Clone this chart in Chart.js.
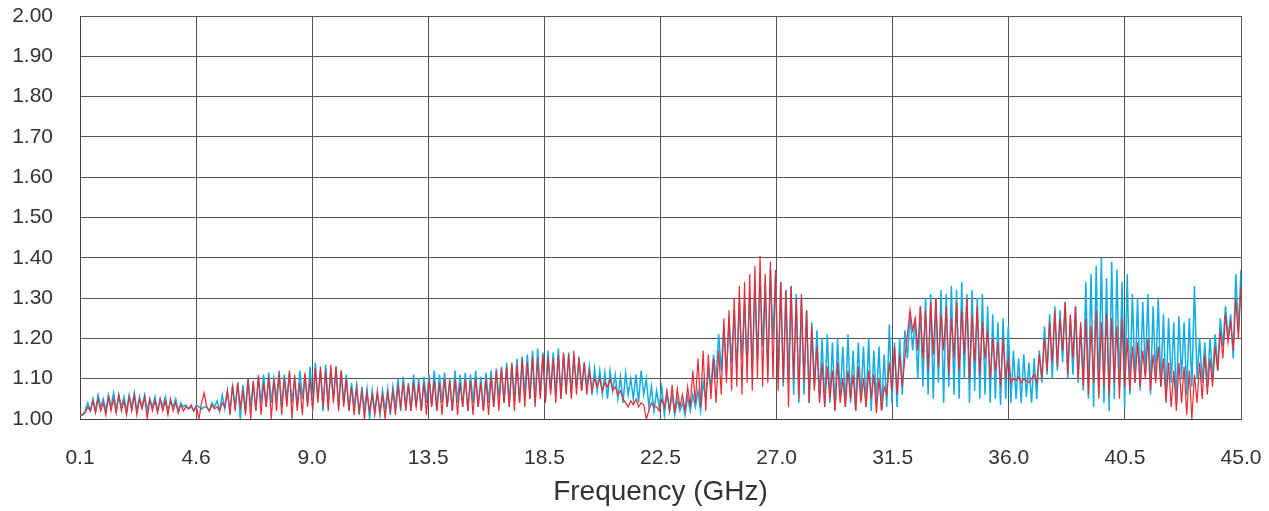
<!DOCTYPE html>
<html><head><meta charset="utf-8">
<script src="https://cdn.jsdelivr.net/npm/chart.js@4.4.1/dist/chart.umd.min.js"></script>
<style>html,body{margin:0;padding:0;background:#fff}#wrap{width:1269px;height:511px}</style>
</head><body><div id="wrap"><canvas id="c" width="1269" height="511"></canvas></div>
<script>
const freqStart = 0.1, freqStep = 0.1;
const xTickValues = [0.1, 4.59, 9.08, 13.57, 18.06, 22.55, 27.04, 31.53, 36.02, 40.51, 45.0];
const xTickLabels = ['0.1','4.6','9.0','13.5','18.5','22.5','27.0','31.5','36.0','40.5','45.0'];

const blueSeries = [
1.01,1.01,1.02,1.04,1.02,1.05,1.02,1.06,1.03,1.05,
1.02,1.06,1.03,1.065,1.02,1.06,1.03,1.055,1.02,1.06,
1.03,1.065,1.02,1.055,1.03,1.06,1.02,1.05,1.03,1.055,
1.02,1.05,1.03,1.055,1.02,1.045,1.03,1.05,1.02,1.04,
1.03,1.035,1.025,1.03,1.02,1.035,1.03,1.025,1.03,1.03,
1.02,1.04,1.03,1.045,1.02,1.06,1.025,1.07,1.02,1.08,
1.03,1.09,1.00,1.085,1.02,1.10,1.03,1.09,1.02,1.105,
1.04,1.11,1.03,1.115,1.04,1.10,1.05,1.12,1.03,1.11,
1.05,1.115,1.04,1.10,1.03,1.12,1.05,1.11,1.04,1.13,
1.03,1.14,1.05,1.12,1.02,1.135,1.04,1.12,1.05,1.13,
1.03,1.12,1.04,1.11,1.02,1.09,1.03,1.085,1.01,1.08,
1.02,1.075,1.00,1.07,1.02,1.065,1.01,1.07,1.02,1.075,
1.01,1.08,1.03,1.10,1.02,1.105,1.03,1.09,1.02,1.11,
1.03,1.10,1.02,1.105,1.04,1.11,1.03,1.12,1.02,1.11,
1.04,1.115,1.03,1.10,1.02,1.12,1.04,1.11,1.03,1.115,
1.02,1.11,1.04,1.12,1.03,1.105,1.02,1.115,1.04,1.12,
1.03,1.125,1.05,1.13,1.04,1.14,1.03,1.135,1.05,1.15,
1.04,1.155,1.06,1.16,1.05,1.17,1.04,1.175,1.06,1.165,
1.05,1.17,1.07,1.165,1.06,1.175,1.05,1.16,1.07,1.165,
1.06,1.15,1.08,1.155,1.07,1.14,1.08,1.13,1.06,1.125,
1.07,1.12,1.06,1.115,1.05,1.12,1.07,1.11,1.05,1.105,
1.04,1.115,1.06,1.10,1.05,1.11,1.04,1.12,1.06,1.10,
1.03,1.08,1.02,1.07,1.03,1.08,1.01,1.065,1.02,1.06,
1.01,1.05,1.02,1.04,1.01,1.055,1.02,1.06,1.03,1.07,
1.02,1.09,1.05,1.12,1.08,1.16,1.10,1.21,1.12,1.23,
1.11,1.25,1.14,1.27,1.12,1.29,1.15,1.28,1.13,1.31,
1.12,1.33,1.15,1.35,1.18,1.34,1.11,1.37,1.20,1.36,
1.10,1.34,1.08,1.32,1.10,1.33,1.06,1.31,1.04,1.30,
1.06,1.27,1.04,1.24,1.08,1.22,1.05,1.20,1.03,1.21,
1.04,1.19,1.02,1.20,1.05,1.18,1.03,1.21,1.04,1.17,
1.02,1.19,1.05,1.18,1.03,1.20,1.02,1.17,1.04,1.18,
1.02,1.16,1.03,1.235,1.04,1.19,1.03,1.20,1.06,1.22,
1.15,1.26,1.17,1.25,1.10,1.28,1.08,1.30,1.06,1.31,
1.05,1.30,1.09,1.32,1.04,1.31,1.08,1.33,1.06,1.32,
1.05,1.34,1.10,1.31,1.04,1.32,1.07,1.30,1.05,1.31,
1.06,1.28,1.04,1.26,1.05,1.24,1.035,1.25,1.05,1.23,
1.04,1.17,1.05,1.15,1.04,1.16,1.055,1.14,1.04,1.15,
1.05,1.17,1.09,1.23,1.11,1.26,1.10,1.28,1.12,1.27,
1.14,1.29,1.10,1.25,1.11,1.28,1.09,1.23,1.07,1.34,
1.05,1.36,1.03,1.38,1.06,1.40,1.04,1.35,1.02,1.39,
1.05,1.37,1.08,1.34,1.03,1.36,1.06,1.31,1.09,1.30,
1.07,1.29,1.11,1.31,1.06,1.28,1.10,1.30,1.08,1.26,
1.05,1.25,1.09,1.24,1.04,1.255,1.10,1.24,1.06,1.25,
1.08,1.33,1.10,1.20,1.09,1.19,1.08,1.20,1.10,1.21,
1.12,1.25,1.18,1.28,1.20,1.26,1.15,1.36,1.22,1.37
];

const redSeries = [
1.01,1.01,1.015,1.03,1.02,1.045,1.015,1.05,1.02,1.04,
1.01,1.055,1.02,1.05,1.015,1.06,1.02,1.045,1.01,1.055,
1.02,1.06,1.01,1.05,1.025,1.055,1.00,1.05,1.02,1.045,
1.015,1.05,1.02,1.045,1.01,1.05,1.02,1.04,1.015,1.035,
1.02,1.03,1.025,1.035,1.02,1.03,1.00,1.04,1.065,1.03,
1.02,1.035,1.025,1.03,1.02,1.04,1.03,1.07,1.01,1.085,
1.02,1.09,1.03,1.07,1.01,1.10,1.00,1.095,1.02,1.11,
1.01,1.09,1.03,1.105,1.00,1.10,1.02,1.115,1.01,1.10,
1.03,1.12,1.00,1.11,1.02,1.09,1.01,1.115,1.03,1.10,
1.02,1.125,1.04,1.13,1.03,1.12,1.02,1.135,1.04,1.13,
1.02,1.12,1.03,1.10,1.02,1.08,1.01,1.075,1.02,1.07,
1.00,1.065,1.02,1.06,1.01,1.07,1.015,1.06,1.00,1.065,
1.02,1.07,1.01,1.08,1.03,1.09,1.02,1.085,1.02,1.09,
1.03,1.085,1.02,1.09,1.01,1.10,1.03,1.095,1.02,1.09,
1.01,1.10,1.03,1.095,1.02,1.10,1.01,1.09,1.03,1.10,
1.02,1.095,1.01,1.10,1.03,1.09,1.02,1.10,1.01,1.105,
1.03,1.12,1.02,1.125,1.04,1.13,1.03,1.14,1.02,1.135,
1.04,1.15,1.03,1.14,1.05,1.155,1.03,1.15,1.05,1.16,
1.04,1.155,1.06,1.15,1.04,1.16,1.05,1.165,1.06,1.16,
1.05,1.17,1.06,1.15,1.07,1.14,1.06,1.12,1.07,1.10,
1.08,1.10,1.07,1.09,1.08,1.10,1.07,1.08,1.06,1.07,
1.05,1.04,1.03,1.045,1.035,1.05,1.03,1.04,1.035,1.00,
1.02,1.04,1.03,1.03,1.02,1.05,1.03,1.07,1.02,1.085,
1.015,1.075,1.03,1.06,1.02,1.08,1.03,1.12,1.04,1.15,
1.03,1.17,1.02,1.16,1.05,1.15,1.04,1.17,1.06,1.25,
1.09,1.27,1.07,1.30,1.08,1.33,1.06,1.34,1.09,1.36,
1.07,1.38,1.10,1.405,1.08,1.36,1.09,1.39,1.10,1.37,
1.07,1.34,1.09,1.32,1.03,1.33,1.10,1.30,1.05,1.31,
1.09,1.27,1.04,1.23,1.07,1.18,1.04,1.14,1.03,1.13,
1.05,1.12,1.02,1.14,1.04,1.10,1.03,1.12,1.05,1.11,
1.02,1.13,1.04,1.10,1.03,1.12,1.05,1.11,1.015,1.10,
1.02,1.08,1.06,1.14,1.07,1.18,1.06,1.16,1.08,1.15,
1.21,1.27,1.22,1.25,1.17,1.28,1.15,1.27,1.12,1.29,
1.16,1.30,1.13,1.26,1.17,1.28,1.11,1.25,1.15,1.29,
1.12,1.27,1.16,1.30,1.10,1.26,1.14,1.28,1.11,1.24,
1.15,1.22,1.10,1.20,1.12,1.19,1.08,1.20,1.10,1.15,
1.09,1.10,1.095,1.105,1.09,1.10,1.095,1.09,1.10,1.11,
1.09,1.16,1.10,1.20,1.12,1.24,1.14,1.27,1.13,1.25,
1.17,1.29,1.11,1.26,1.15,1.28,1.10,1.24,1.08,1.25,
1.06,1.23,1.09,1.27,1.05,1.24,1.08,1.26,1.06,1.25,
1.09,1.23,1.05,1.25,1.08,1.20,1.07,1.18,1.09,1.19,
1.08,1.17,1.10,1.20,1.07,1.16,1.09,1.18,1.08,1.15,
1.04,1.14,1.03,1.12,1.02,1.14,1.04,1.13,1.01,1.12,
1.00,1.11,1.04,1.14,1.05,1.16,1.06,1.15,1.08,1.18,
1.12,1.22,1.15,1.26,1.19,1.24,1.17,1.30,1.20,1.33
];

const freqs = blueSeries.map((_, i) => +(freqStart + i * freqStep).toFixed(2));
const toPts = arr => arr.map((y, i) => ({x: freqs[i], y}));

const FONT = "'Liberation Sans', Arial, sans-serif";
new Chart(document.getElementById('c'), {
  type: 'line',
  data: {
    datasets: [
      {label: 'red', data: toPts(redSeries), borderColor: '#EC2A33', borderWidth: 1.2, pointRadius: 0, tension: 0, order: 1},
      {label: 'blue', data: toPts(blueSeries), borderColor: '#12ADE6', borderWidth: 1.5, pointRadius: 0, tension: 0, order: 2}
    ]
  },
  options: {
    responsive: false,
    animation: false,
    devicePixelRatio: 1,
    layout: {padding: {top: 16, right: 28, left: 0, bottom: 0}},
    plugins: {legend: {display: false}, tooltip: {enabled: false}},
    scales: {
      x: {
        type: 'linear', min: 0.1, max: 45.0,
        afterBuildTicks: s => { s.ticks = xTickValues.map(v => ({value: v})); },
        afterFit: s => { s.height = 92; },
        ticks: {autoSkip: false, maxRotation: 0, padding: 0, color: '#333', font: {family: FONT, size: 21},
          callback: (v, i) => xTickLabels[i]},
        grid: {color: '#555', lineWidth: 1, drawTicks: true, tickLength: 27, tickColor: 'rgba(0,0,0,0)'},
        border: {color: '#444', width: 1},
        title: {display: true, text: 'Frequency (GHz)', color: '#333', font: {family: FONT, size: 28}, padding: {top: 0, bottom: 2}}
      },
      y: {
        min: 1.0, max: 2.0,
        afterFit: s => { s.width = 80; },
        ticks: {stepSize: 0.1, padding: 0, color: '#333', font: {family: FONT, size: 21},
          callback: v => Number(v).toFixed(2)},
        grid: {color: '#555', lineWidth: 1, drawTicks: true, tickLength: 27, tickColor: 'rgba(0,0,0,0)'},
        border: {color: '#444', width: 1}
      }
    }
  }
});
</script></body></html>
